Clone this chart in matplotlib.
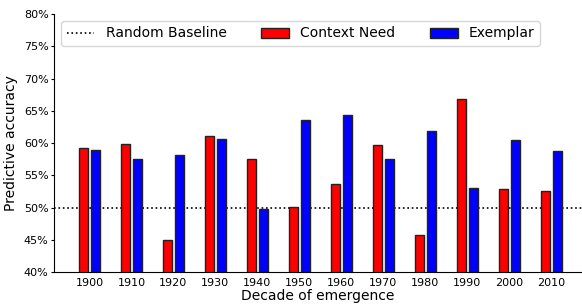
import numpy as np
import matplotlib.pyplot as plt
from matplotlib.ticker import FuncFormatter

# Valeurs
decades = ["1900", "1910", "1920", "1930", "1940", "1950",
           "1960", "1970", "1980", "1990", "2000", "2010"]
context_need = [59.2, 59.9, 45.0, 61.1, 57.5, 50.1,
                53.7, 59.7, 45.7, 66.8, 52.9, 52.5]
exemplar = [58.9, 57.6, 58.2, 60.6, 49.8, 63.5,
            64.4, 57.5, 61.9, 53.0, 60.4, 58.7]
baseline = 50.0

x = np.arange(len(decades))
width = 0.2
offset = 0.142

fig = plt.figure(figsize=(5.82, 3.04), dpi=100)
ax = fig.add_axes([0.093, 0.105, 0.907, 0.849])

ax.axhline(baseline, color="black", linestyle=":", linewidth=1.2,
           label="Random Baseline", zorder=1)
ax.bar(x - offset, context_need, width, color="#ff0000", edgecolor="#222222",
       linewidth=1, label="Context Need", zorder=2)
ax.bar(x + offset, exemplar, width, color="#0000ff", edgecolor="#222222",
       linewidth=1, label="Exemplar", zorder=2)

ax.set_ylim(40, 80)
ax.set_xlim(-0.84, 11.73)
ax.set_yticks(np.arange(40, 81, 5))
ax.yaxis.set_major_formatter(FuncFormatter(lambda v, p: f"{v:.0f}%"))
ax.set_xticks(x)
ax.set_xticklabels(decades)
ax.tick_params(axis="x", length=0, labelsize=8, pad=4)
ax.tick_params(axis="y", length=2, labelsize=8, pad=2)

ax.spines["top"].set_visible(False)
ax.spines["right"].set_visible(False)

ax.set_xlabel("Decade of emergence", fontsize=10, labelpad=1)
ax.set_ylabel("Predictive accuracy", fontsize=10, labelpad=4)

ax.legend(loc="upper left", ncol=3, fontsize=10, columnspacing=2.5,
          handleheight=0.75)

fig.savefig("out.png", dpi=100)
